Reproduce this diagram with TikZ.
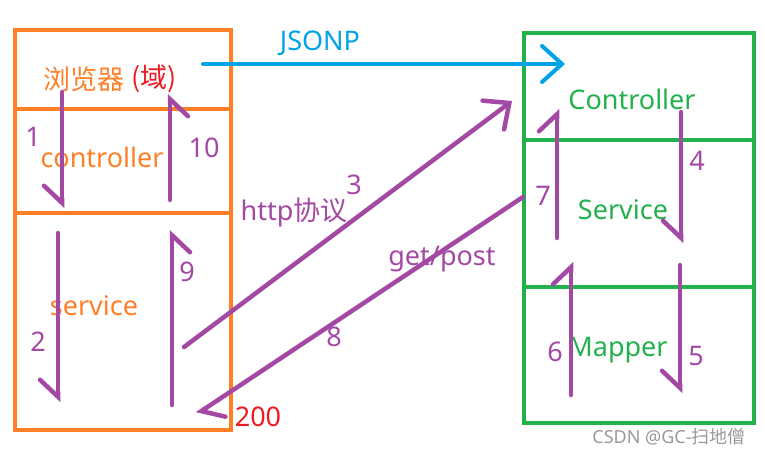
\documentclass[tikz,border=0pt]{standalone}
\usepackage{fontspec}
\setmainfont{Noto Sans}
\newfontfamily\cjk{Noto Sans CJK SC}
\usepackage{tikz}
\usetikzlibrary{arrows.meta, positioning}
\definecolor{porange}{RGB}{255,127,39}
\definecolor{pgreen}{RGB}{34,177,76}
\definecolor{ppurple}{RGB}{163,73,164}
\definecolor{pblue}{RGB}{0,162,232}
\definecolor{pred}{RGB}{237,28,36}

\begin{document}
\begin{tikzpicture}[
  x=1pt, y=-1pt,
  cell/.style={rectangle, draw, line width=4pt, inner sep=0pt, outer sep=0pt},
  ocell/.style={cell, draw=porange, minimum width=216pt},
  gcell/.style={cell, draw=pgreen, minimum width=230pt},
  lbl/.style={inner sep=0pt, font=\fontsize{27}{32}\selectfont},
  num/.style={lbl, text=ppurple},
  flow/.style={draw=ppurple, line width=4.5pt, line cap=round},
  harpl/.style={flow, -{Straight Barb[harpoon, length=17pt, width=36pt, line cap=round]}},
  harpr/.style={flow, -{Straight Barb[harpoon, swap, length=17pt, width=36pt, line cap=round]}},
  fullarr/.style={-{Straight Barb[length=20pt, width=36pt, line cap=round]}}
]
\useasboundingbox (0,0) rectangle (765,455);

\node[ocell, minimum height=79pt] (brw) at (123,69.5) {};
\node[ocell, minimum height=104pt, below=0pt of brw] (octl) {};
\node[ocell, minimum height=217pt, below=0pt of octl] (osvc) {};

\node[gcell, minimum height=107pt] (gctl) at (639,86.5) {};
\node[gcell, minimum height=147pt, below=0pt of gctl] (gsvc) {};
\node[gcell, minimum height=136pt, below=0pt of gsvc] (gmap) {};

\node[lbl, text=porange] (brwtxt) at (84,79) {\cjk 浏览器};
\node[lbl, text=pred] (domtxt) at (154,79) {\cjk (域)};
\node[lbl, text=porange] (octltxt) at (102,157) {controller};
\node[lbl, text=porange] (osvctxt) at (94,306) {service};
\node[lbl, text=pgreen] (gctltxt) at (632,99) {Controller};
\node[lbl, text=pgreen] (gsvctxt) at (623,210) {Service};
\node[lbl, text=pgreen] (gmaptxt) at (618,350) {Mapper};

\node[num] (n1) at (33,137) {1};
\node[num] (n2) at (38,342) {2};
\node[num] (n3) at (354,185) {3};
\node[num] (n4) at (697,161) {4};
\node[num] (n5) at (696,356) {5};
\node[num] (n6) at (555,352) {6};
\node[num] (n7) at (543,196) {7};
\node[num] (n8) at (334,337) {8};
\node[num] (n9) at (187,272) {9};
\node[num] (n10) at (204,148) {10};
\node[num] (proto) at (294,212) {http\cjk 协议};
\node[num] (method) at (442,259) {get/post};
\node[lbl, text=pred] (code) at (258,417) {200};
\node[lbl, text=pblue] (jsonp) at (320,43) {JSONP};
\node[inner sep=0pt, text=black!40, font=\fontsize{18}{22}\selectfont] (mark) at (669,437) {CSDN @GC-\cjk 扫地僧};

\coordinate (s1) at (62,92);   \coordinate (e1) at (62,208);
\coordinate (s2) at (58,233);  \coordinate (e2) at (58,402);
\coordinate (s3) at (184,347); \coordinate (e3) at (512,101);
\coordinate (s4) at (681,112); \coordinate (e4) at (681,243);
\coordinate (s5) at (680,265); \coordinate (e5) at (680,393);
\coordinate (s6) at (571,395); \coordinate (e6) at (571,262);
\coordinate (s7) at (557,238); \coordinate (e7) at (557,109);
\coordinate (s8) at (523,197); \coordinate (e8) at (197,414);
\coordinate (s9) at (172,405); \coordinate (e9) at (172,230);
\coordinate (s10) at (170,200); \coordinate (e10) at (170,94);
\coordinate (sj) at (203,64);  \coordinate (ej) at (565,64);

\draw[harpr] (s1) -- (e1);
\draw[harpr] (s2) -- (e2);
\draw[flow, fullarr] (s3) -- (e3);
\draw[harpr] (s4) -- (e4);
\draw[harpr] (s5) -- (e5);
\draw[harpl] (s6) -- (e6);
\draw[harpl] (s7) -- (e7);
\draw[harpl] (s8) -- (e8);
\draw[harpr] (s9) -- (e9);
\draw[harpr] (s10) -- (e10);
\draw[draw=pblue, line width=4pt, line cap=round, fullarr] (sj) -- (ej);
\end{tikzpicture}
\end{document}
